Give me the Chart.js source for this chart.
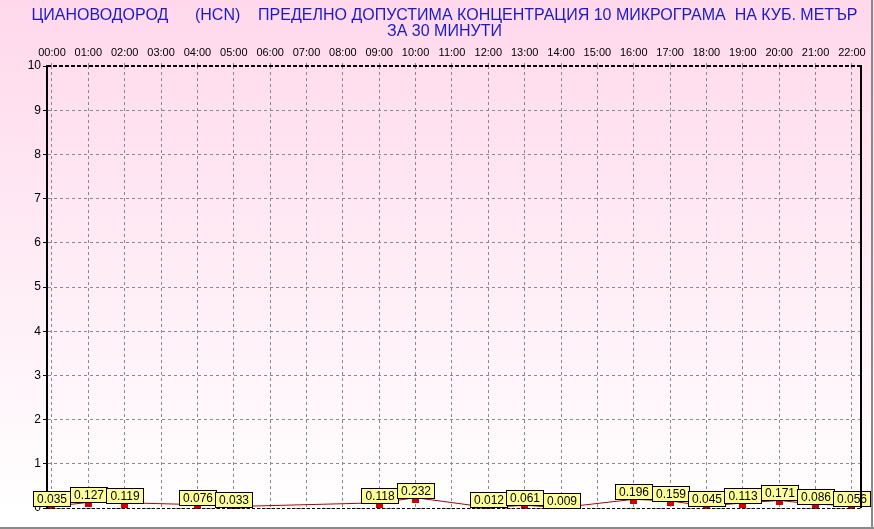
<!DOCTYPE html>
<html>
<head>
<meta charset="utf-8">
<script src="https://cdn.jsdelivr.net/npm/chart.js@4.4.1/dist/chart.umd.min.js"></script>
<style>
  html, body { margin: 0; padding: 0; background: #fff; }
  #wrap { width: 874px; height: 529px; }
</style>
</head>
<body>
<div id="wrap"><canvas id="hcnChart" width="874" height="529"></canvas></div>
<script>
// Data
const titleLines = [
    'ЦИАНОВОДОРОД      (HCN)    ПРЕДЕЛНО ДОПУСТИМА КОНЦЕНТРАЦИЯ 10 МИКРОГРАМА  НА КУБ. МЕТЪР',
    'ЗА 30 МИНУТИ'
];
const hourLabels = ['00:00', '01:00', '02:00', '03:00', '04:00', '05:00', '06:00', '07:00',
    '08:00', '09:00', '10:00', '11:00', '12:00', '13:00', '14:00', '15:00', '16:00',
    '17:00', '18:00', '19:00', '20:00', '21:00', '22:00'];
const concentrations = [0.035, 0.127, 0.119, null, 0.076, 0.033, null, null, null, 0.118,
    0.232, null, 0.012, 0.061, 0.009, null, 0.196, 0.159, 0.045, 0.113, 0.171, 0.086, 0.056];
const yTicks = [0, 1, 2, 3, 4, 5, 6, 7, 8, 9, 10];

const FONT = '"Liberation Sans", Arial, sans-serif';

// Small red marker, drawn just below the point
function makeMarker() {
    const c = document.createElement('canvas');
    c.width = 7;
    c.height = 10;
    const g = c.getContext('2d');
    g.fillStyle = '#d40000';
    g.fillRect(0, 5, 7, 5);
    return c;
}

// Background + frame lines
const frame = {
    id: 'frame',
    beforeDraw(chart) {
        const { ctx, width, height, chartArea } = chart;
        ctx.save();
        let grad = ctx.createLinearGradient(0, 0, 0, chartArea.bottom + 4);
        grad.addColorStop(0, '#ffd8eb');
        grad.addColorStop(1, '#ffffff');
        ctx.fillStyle = grad;
        ctx.fillRect(0, 0, width, chartArea.bottom + 4);
        ctx.fillStyle = '#ffffff';
        ctx.fillRect(0, chartArea.bottom + 4, width, height);
        // outer gray edges
        ctx.fillStyle = '#8a8a8a';
        ctx.fillRect(0, height - 2, width, 2);
        ctx.fillRect(width - 3, 0, 2, height);
        ctx.restore();
    },
    afterDraw(chart) {
        const { ctx, chartArea } = chart;
        ctx.save();
        ctx.strokeStyle = '#000';
        // top dashed border
        ctx.lineWidth = 2;
        ctx.setLineDash([4, 2]);
        ctx.beginPath();
        ctx.moveTo(chartArea.left, chartArea.top);
        ctx.lineTo(chartArea.right, chartArea.top);
        ctx.stroke();
        // bottom dashed border
        ctx.lineWidth = 1;
        ctx.setLineDash([3, 2]);
        ctx.beginPath();
        ctx.moveTo(chartArea.left, chartArea.bottom + 0.5);
        ctx.lineTo(chartArea.right, chartArea.bottom + 0.5);
        ctx.stroke();
        // right border
        ctx.setLineDash([]);
        ctx.lineWidth = 2;
        ctx.beginPath();
        ctx.moveTo(chartArea.right, chartArea.top - 1);
        ctx.lineTo(chartArea.right, chartArea.bottom);
        ctx.stroke();
        ctx.restore();
    }
};

// Yellow value boxes above each point
const valueBoxes = {
    id: 'valueBoxes',
    afterDatasetsDraw(chart) {
        const ctx = chart.ctx;
        const meta = chart.getDatasetMeta(0);
        ctx.save();
        ctx.font = '12px ' + FONT;
        ctx.textAlign = 'center';
        ctx.textBaseline = 'middle';
        meta.data.forEach((pt, i) => {
            const v = concentrations[i];
            if (v === null) return;
            const w = 37, h = 15;
            const x = Math.round(pt.x - w / 2) + 0.5;
            const y = Math.round(pt.y) - h + 0.5;
            ctx.fillStyle = '#ffff99';
            ctx.fillRect(x, y, w, h);
            ctx.strokeStyle = '#000';
            ctx.lineWidth = 1;
            ctx.strokeRect(x, y, w, h);
            ctx.fillStyle = '#000';
            ctx.fillText(v.toFixed(3), x + w / 2, y + h / 2 + 1);
        });
        ctx.restore();
    }
};

const points = concentrations.map((v, i) => ({ x: i, y: v }));

new Chart(document.getElementById('hcnChart'), {
    type: 'line',
    data: {
        datasets: [{
            data: points,
            borderColor: '#b00000',
            borderWidth: 1,
            pointStyle: makeMarker(),
            pointRadius: 4,
            spanGaps: true,
            tension: 0,
            clip: 1
        }]
    },
    options: {
        responsive: false,
        animation: false,
        devicePixelRatio: 1,
        layout: { padding: { left: 28, right: 13, top: 0, bottom: 21 } },
        plugins: {
            legend: { display: false },
            tooltip: { enabled: false },
            title: {
                display: true,
                text: titleLines,
                color: '#1a1ac8',
                font: { family: FONT, size: 16, weight: 'normal', lineHeight: 1 },
                padding: { top: 8, bottom: 0 }
            }
        },
        scales: {
            x: {
                type: 'linear',
                position: 'top',
                min: -0.137,
                max: 22.25,
                afterBuildTicks: s => {
                    s.ticks = hourLabels.map((_, i) => ({ value: i }));
                },
                afterFit: s => { s.height = 26; },
                ticks: {
                    autoSkip: false,
                    maxRotation: 0,
                    padding: 3,
                    color: '#000',
                    font: { family: FONT, size: 11 },
                    callback: v => hourLabels[v] || ''
                },
                grid: { color: '#8a8a8a', tickLength: 3, tickColor: '#8a8a8a' },
                border: { display: false, dash: [3, 3] }
            },
            y: {
                min: 0,
                max: 10,
                afterBuildTicks: s => {
                    s.ticks = yTicks.map(v => ({ value: v }));
                },
                afterFit: s => { s.width = 19; },
                ticks: {
                    padding: 2,
                    color: '#000',
                    font: { family: FONT, size: 12 }
                },
                grid: { color: '#8a8a8a', tickLength: 4, tickColor: '#000' },
                border: { display: true, color: '#000', width: 2, dash: [3, 3] }
            }
        }
    },
    plugins: [frame, valueBoxes]
});
</script>
</body>
</html>
